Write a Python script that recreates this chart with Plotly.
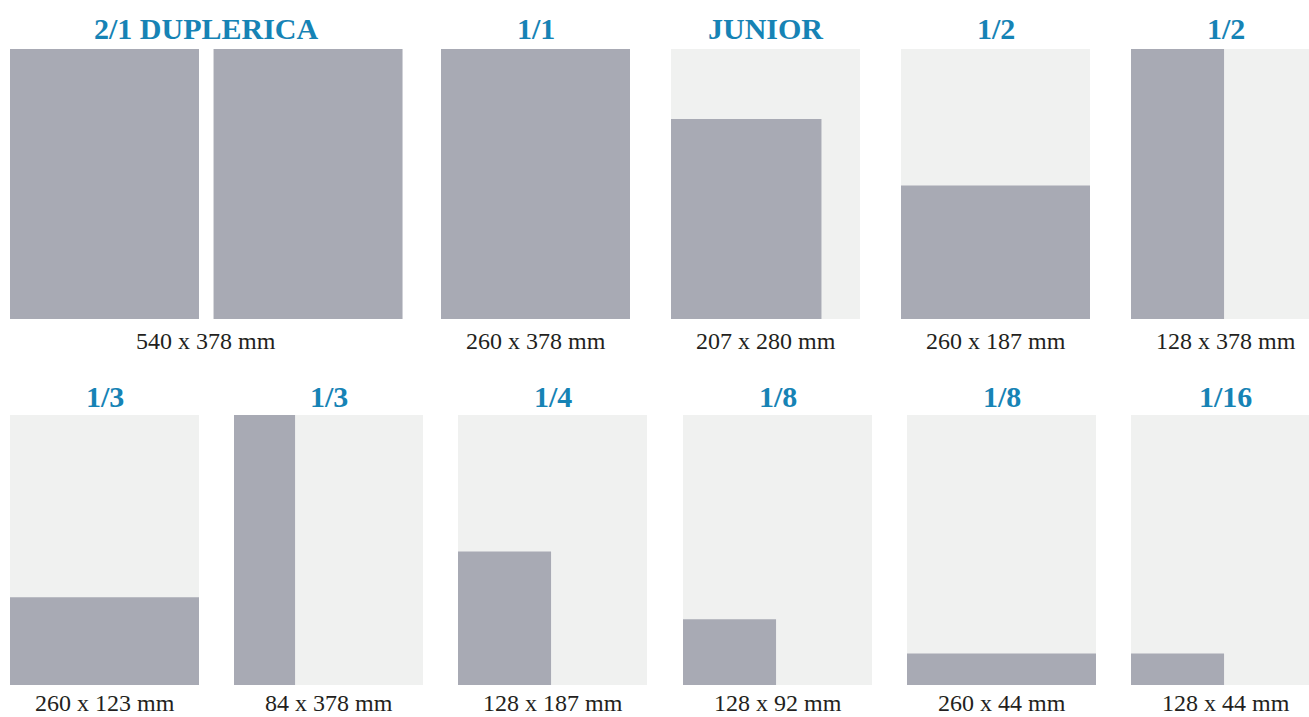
import plotly.graph_objects as go

# ---- data ----
titles = ["2/1 DUPLERICA", "1/1", "JUNIOR", "1/2", "1/2",
          "1/3", "1/3", "1/4", "1/8", "1/8", "1/16"]
widths_mm = [540, 260, 207, 260, 128, 260, 84, 128, 128, 260, 128]
heights_mm = [378, 378, 280, 187, 378, 123, 378, 187, 92, 44, 44]
size_labels = ["540 x 378 mm", "260 x 378 mm", "207 x 280 mm", "260 x 187 mm",
               "128 x 378 mm", "260 x 123 mm", "84 x 378 mm", "128 x 187 mm",
               "128 x 92 mm", "260 x 44 mm", "128 x 44 mm"]
PAGE_W, PAGE_H = 260, 378  # one magazine page, mm

# ---- layout (pixels on the 1309x717 canvas) ----
W, H = 1309, 717
SX = 189 / PAGE_W   # px per mm horizontally
SY = 270 / PAGE_H   # px per mm vertically
panel_px = [(10, 49), (441, 49), (671, 49), (901, 49), (1131, 49),
            (10, 415), (234, 415), (458, 415), (683, 415), (907, 415), (1131, 415)]
title_y_px = {49: 28.5, 415: 396.5}
label_y_px = {49: 340.5, 415: 703}

GRAY = "#a8aab4"
LIGHT = "#f0f1f0"
BLUE = "#1683b5"
TEXT = "#231f20"


def rect(x0, y0, x1, y1, color):
    return go.Scatter(x=[x0, x1, x1, x0, x0], y=[y0, y0, y1, y1, y0],
                      mode="lines", fill="toself", fillcolor=color,
                      line=dict(width=0, color=color), hoverinfo="skip",
                      showlegend=False)


fig = go.Figure()
annotations = []
for t, w, h, lab, (px, py) in zip(titles, widths_mm, heights_mm, size_labels, panel_px):
    X0 = px / SX
    Y0 = py / SY
    if w > PAGE_W:  # double-page spread: two pages with a gutter
        fig.add_trace(rect(X0, Y0, X0 + PAGE_W, Y0 + PAGE_H, GRAY))
        fig.add_trace(rect(X0 + w - PAGE_W, Y0, X0 + w, Y0 + PAGE_H, GRAY))
        cx = X0 + w / 2
    else:
        fig.add_trace(rect(X0, Y0, X0 + PAGE_W, Y0 + PAGE_H, LIGHT))
        fig.add_trace(rect(X0, Y0 + PAGE_H - h, X0 + w, Y0 + PAGE_H, GRAY))
        cx = X0 + PAGE_W / 2
    annotations.append(dict(x=cx, y=title_y_px[py] / SY, xref="x", yref="y",
                            text="<b>%s</b>" % t, showarrow=False,
                            xanchor="center", yanchor="middle",
                            font=dict(family="Liberation Serif", size=30, color=BLUE)))
    annotations.append(dict(x=cx, y=label_y_px[py] / SY, xref="x", yref="y",
                            text=lab, showarrow=False,
                            xanchor="center", yanchor="middle",
                            font=dict(family="Liberation Serif", size=24, color=TEXT)))

fig.update_layout(
    width=W, height=H,
    margin=dict(l=0, r=0, t=0, b=0),
    paper_bgcolor="white", plot_bgcolor="white",
    xaxis=dict(range=[0, W / SX], visible=False, fixedrange=True),
    yaxis=dict(range=[H / SY, 0], visible=False, fixedrange=True),
    annotations=annotations,
    showlegend=False,
)
fig.write_html("out.html", config={"displayModeBar": False},
               post_script="document.body.style.margin='0';"
                           "document.body.style.overflow='hidden';")
